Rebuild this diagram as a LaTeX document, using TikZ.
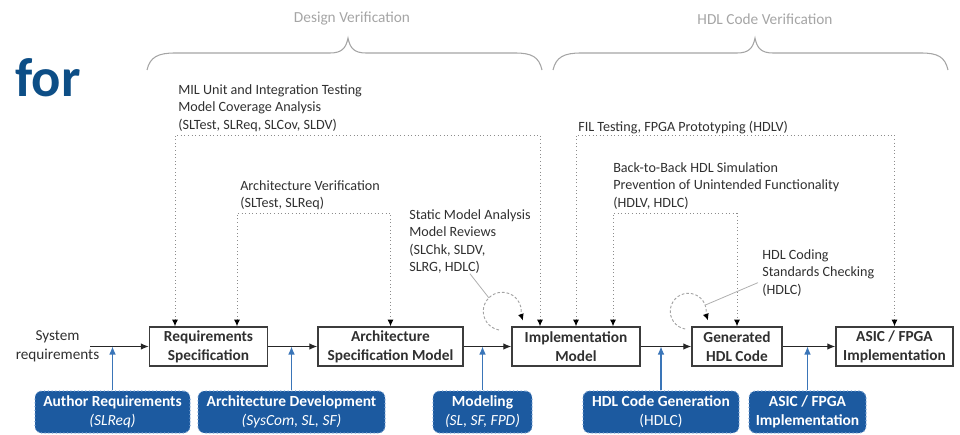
\documentclass[tikz,border=0pt]{standalone}
\usepackage{fontspec}
\setmainfont{Carlito}
\usetikzlibrary{arrows.meta,calc}

\definecolor{boxline}{HTML}{3C3C3C}
\definecolor{txt}{HTML}{303030}
\definecolor{bluefill}{HTML}{1C5AA0}
\definecolor{blueedge}{HTML}{7FA6D6}
\definecolor{bluearr}{HTML}{3A75B8}
\definecolor{fbgray}{HTML}{8C8C8C}
\definecolor{bracegray}{HTML}{A5A5A5}
\definecolor{titleblue}{HTML}{0D4E86}

\tikzset{
  stage/.style={draw=boxline, line width=1.1pt, fill=white, minimum height=29.25pt,
    inner sep=1pt, align=center, text=txt, font=\fontsize{11.5}{14.25}\selectfont\bfseries},
  activity/.style={fill=bluefill, draw=blueedge, dotted, line width=0.8pt,
    rounded corners=5pt, minimum height=31.5pt, inner sep=1pt, align=center,
    text=white, font=\fontsize{11.6}{14.25}\selectfont\bfseries},
  note/.style={anchor=north west, inner sep=0pt, align=left, text=txt,
    font=\fontsize{10.6}{13.1}\selectfont},
  phase/.style={text=bracegray, inner sep=0pt, font=\fontsize{11.5}{13}\selectfont},
  flow/.style={draw=black!85, line width=0.9pt, -{Latex[length=6pt,width=5pt]}},
  uparrow/.style={draw=bluearr, line width=0.8pt, -{Latex[length=6pt,width=5pt]}},
  feed/.style={draw=fbgray, dotted, line width=0.7pt,
    {Latex[black,length=5pt,width=4.5pt]}-{Latex[black,length=5pt,width=4.5pt]}},
  selfcheck/.style={draw=fbgray!80, dash pattern=on 2pt off 1.5pt, line width=0.7pt,
    -{Latex[black,length=5pt,width=4.5pt]}},
  leader/.style={draw=fbgray!70, line width=0.6pt},
  phasebrace/.style={draw=bracegray, line width=0.8pt}
}

\begin{document}
\begin{tikzpicture}[x=0.75pt,y=-0.75pt]
\useasboundingbox (0,0) rectangle (960,435);

% partial slide title
\node[anchor=base west, inner sep=0pt, text=titleblue,
  font=\fontsize{41}{41}\selectfont\bfseries] (title) at (15,97) {for};

% phase braces and their labels
\node[phase] (dvlabel) at (352,19) {Design Verification};
\node[phase] (hvlabel) at (765,19) {HDL Code Verification};
\draw[phasebrace] (147,70) .. controls (150,57) and (158,53) .. (175,53) -- (330,53)
  .. controls (342,53) and (346,48) .. (348,38)
  .. controls (350,48) and (354,53) .. (366,53) -- (515,53)
  .. controls (532,53) and (539,57) .. (542,70);
\draw[phasebrace] (553,70) .. controls (556,57) and (564,53) .. (581,53) -- (737,53)
  .. controls (749,53) and (753,48) .. (755,38)
  .. controls (757,48) and (761,53) .. (773,53) -- (921,53)
  .. controls (938,53) and (945,57) .. (948,70);

% main development stages
\node[stage, minimum width=88.5pt]  (req)  at (208.5,346.5) {Requirements\\Specification};
\node[stage, minimum width=108.75pt] (arch) at (390.5,346.5) {Architecture\\Specification Model};
\node[stage, minimum width=96pt]    (impl) at (576,346.5) {Implementation\\Model};
\node[stage, minimum width=67.5pt]  (gen)  at (737,346.5) {Generated\\HDL Code};
\node[stage, minimum width=87.75pt] (asic) at (894.5,346.5) {ASIC / FPGA\\Implementation};

\node[align=center, inner sep=0pt, text=txt, font=\fontsize{11.4}{14.25}\selectfont]
  (sys) at (57.5,346.5) {System\\requirements};
\coordinate (sysout) at (90,346.5);

% activities
\node[activity, minimum width=116.25pt] (auth) at (112.5,412)
  {Author Requirements\\{\mdseries\itshape (SLReq)}};
\node[activity, minimum width=140.25pt] (archdev) at (291.5,412)
  {Architecture Development\\{\mdseries\itshape (SysCom, SL, SF)}};
\node[activity, minimum width=74.25pt] (model) at (482.5,412)
  {Modeling\\{\mdseries\itshape (SL, SF, FPD)}};
\node[activity, minimum width=117pt] (hdlgen) at (661,412)
  {HDL Code Generation\\{\mdseries (HDLC)}};
\node[activity, minimum width=87.75pt] (asicimpl) at (807.5,412)
  {ASIC / FPGA\\Implementation};

% main flow
\draw[flow] (sysout) -- (req.west);
\draw[flow] (req.east) -- (arch.west);
\draw[flow] (arch.east) -- (impl.west);
\draw[flow] (impl.east) -- (gen.west);
\draw[flow] (gen.east) -- (asic.west);

% activities feeding the flow
\draw[uparrow] (auth.north) -- (auth.north |- req.west);
\draw[uparrow] (archdev.north) -- (archdev.north |- req.west);
\draw[uparrow] (model.north) -- (model.north |- req.west);
\draw[uparrow] (hdlgen.north) -- (hdlgen.north |- req.west);
\draw[uparrow] (asicimpl.north) -- (asicimpl.north |- req.west);

% verification notes
\node[note] (mil) at (178,84)
  {MIL Unit and Integration Testing\\Model Coverage Analysis\\(SLTest, SLReq, SLCov, SLDV)};
\node[note] (av) at (240,180) {Architecture Verification\\(SLTest, SLReq)};
\node[note] (static) at (409,209)
  {Static Model Analysis\\Model Reviews\\(SLChk, SLDV,\\SLRG, HDLC)};
\node[note] (fil) at (578,121) {FIL Testing, FPGA Prototyping (HDLV)};
\node[note] (b2b) at (613,162)
  {Back-to-Back HDL Simulation\\Prevention of Unintended Functionality\\(HDLV, HDLC)};
\node[note] (hdlc) at (762,249) {HDL Coding\\Standards Checking\\(HDLC)};

% verification loops
\coordinate (milL) at (175,135);  \coordinate (milR) at (540,135);
\coordinate (avL)  at (237,213);  \coordinate (avR)  at (390.5,213);
\coordinate (filL) at (576,135);  \coordinate (filR) at (894.5,135);
\coordinate (bbL)  at (613,213);  \coordinate (bbR)  at (737,213);

\draw[feed] (req.north -| milL) -- (milL) -- (milR) -- (impl.north -| milR);
\draw[feed] (req.north -| avL) -- (avL) -- (avR) -- (arch.north);
\draw[feed] (impl.north -| filL) -- (filL) -- (filR) -- (asic.north);
\draw[feed] (impl.north -| bbL) -- (bbL) -- (bbR) -- (gen.north);

% self-checking loops on the model and on the code
\coordinate (implc) at ($(impl.north west)+(-9,-15)$);
\draw[selfcheck] (implc) ++(100:19) arc[start angle=100, end angle=370, radius=19]
  -- ++(2,6);
\draw[leader] (static.south) -- ($(implc)+(225:19)$);

\coordinate (genc) at ($(gen.north west)+(-3,-15)$);
\draw[selfcheck] (genc) ++(100:18) arc[start angle=100, end angle=370, radius=18]
  -- ++(2,6);
\draw[leader] ($(hdlc.west)+(-4,10)$) -- ($(genc)+(-20:18)$);
\end{tikzpicture}
\end{document}
